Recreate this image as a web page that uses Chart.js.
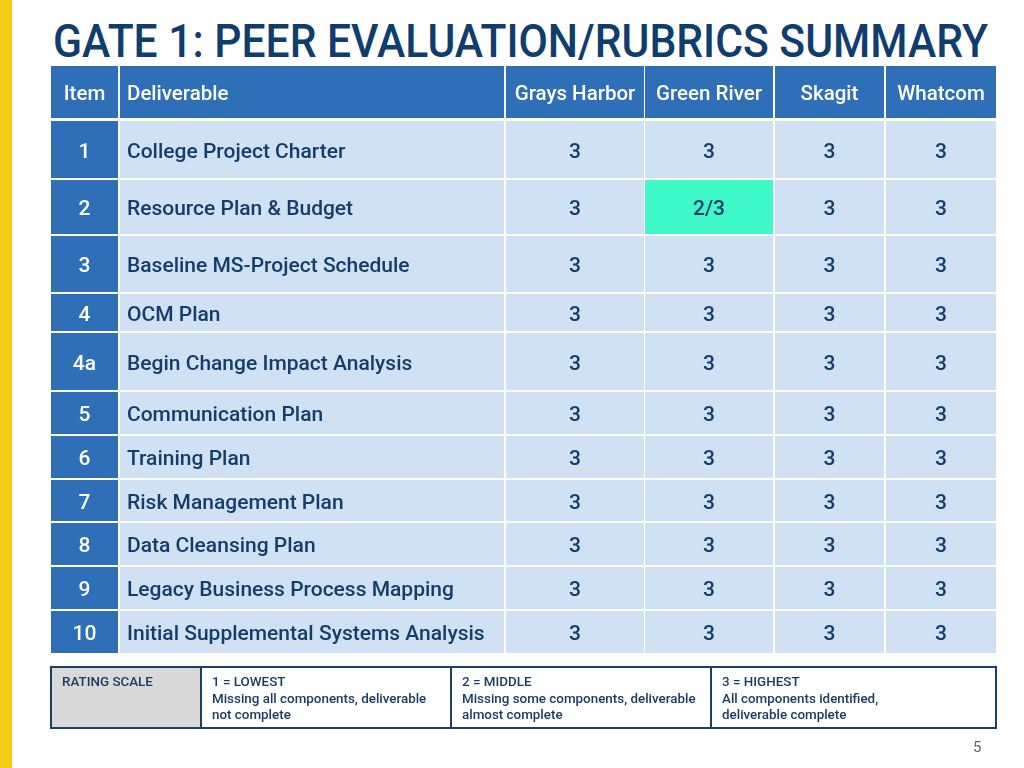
<!DOCTYPE html>
<html>
<head>
<meta charset="utf-8">
<script src="https://cdn.jsdelivr.net/npm/chart.js@4"></script>
<style>
  html,body{margin:0;padding:0;background:#fff;}
  body{width:1024px;height:768px;position:relative;overflow:hidden;font-family:Roboto,"Liberation Sans",sans-serif;}
  #bar{position:absolute;left:0;top:0;width:12px;height:768px;background:#f5cd16;}
  #title{position:absolute;left:53px;top:14px;margin:0;font-family:Roboto,sans-serif;font-weight:500;font-size:46px;line-height:54px;color:#0e3d6e;white-space:nowrap;transform-origin:0 0;letter-spacing:0;}
  #wrap{position:absolute;left:0;top:0;width:1024px;height:768px;}
  #legend{position:absolute;left:50px;top:666px;width:947px;height:63px;border-collapse:collapse;font-family:Roboto,sans-serif;font-weight:500;font-size:13.4px;line-height:16.7px;color:#1a3b63;}
  #legend td{border:2px solid #1c3f66;vertical-align:top;padding:6px 0 0 10px;box-sizing:border-box;}
  #legend td.h{background:#d9d9d9;}
  #page{position:absolute;left:973px;top:738px;font-family:Roboto,sans-serif;font-size:15px;color:#5a6878;}
</style>
</head>
<body>
<div id="bar"></div>
<h1 id="title">GATE 1: PEER EVALUATION/RUBRICS SUMMARY</h1>
<div id="wrap"><canvas id="c" width="1024" height="768"></canvas></div>
<table id="legend">
  <tr>
    <td class="h" style="width:150px">RATING SCALE</td>
    <td style="width:250px">1 = LOWEST<br>Missing all components, deliverable<br>not complete</td>
    <td style="width:260px">2 = MIDDLE<br>Missing some components, deliverable<br>almost complete</td>
    <td>3 = HIGHEST<br>All components identified,<br>deliverable complete</td>
  </tr>
</table>
<div id="page">5</div>
<script>
// ---- data ----
const headers = ["Item", "Deliverable", "Grays Harbor", "Green River", "Skagit", "Whatcom"];
const items = ["1", "2", "3", "4", "4a", "5", "6", "7", "8", "9", "10"];
const deliverables = [
  "College Project Charter",
  "Resource Plan & Budget",
  "Baseline MS-Project Schedule",
  "OCM Plan",
  "Begin Change Impact Analysis",
  "Communication Plan",
  "Training Plan",
  "Risk Management Plan",
  "Data Cleansing Plan",
  "Legacy Business Process Mapping",
  "Initial Supplemental Systems Analysis"
];
const graysHarbor = ["3","3","3","3","3","3","3","3","3","3","3"];
const greenRiver  = ["3","2/3","3","3","3","3","3","3","3","3","3"];
const skagit      = ["3","3","3","3","3","3","3","3","3","3","3"];
const whatcom     = ["3","3","3","3","3","3","3","3","3","3","3"];
const colleges = [graysHarbor, greenRiver, skagit, whatcom];

// ---- layout (scale units = page pixels) ----
const colEdges = [[51,118],[120,504],[506,644],[645,773],[775,884],[886,996]];
const headerEdge = [66,118];
const rowEdges = [[121,178],[180,234],[236,292],[294,331],[333,390],[392,434],[436,478],[480,521],[523,565],[567,609],[611,653]];

const C = {
  blue:"#2e6fb7", light:"#d0e1f3", hi:"#3ff8c8", navy:"#163d6a", white:"#ffffff"
};
const FONT = '500 21px Roboto, "Liberation Sans", sans-serif';
const HFONT = '500 20.5px Roboto, "Liberation Sans", sans-serif';
const TEXT_DY = 3;

const mid = e => (e[0]+e[1])/2;
const datasets = colleges.map((vals, ci) => ({
  label: headers[ci+2],
  data: vals.map((v, ri) => ({x: mid(colEdges[ci+2]), y: mid(rowEdges[ri]), v: v})),
  pointRadius: 0, pointHoverRadius: 0
}));

function rect(ctx, xs, ys, col, colE, rowE){
  const x0 = xs.getPixelForValue(colE[0]), x1 = xs.getPixelForValue(colE[1]);
  const y0 = ys.getPixelForValue(rowE[0]), y1 = ys.getPixelForValue(rowE[1]);
  ctx.fillStyle = col;
  ctx.fillRect(x0, y0, x1-x0, y1-y0);
}

const tablePlugin = {
  id: 'table',
  beforeDatasetsDraw(chart){
    const ctx = chart.ctx, xs = chart.scales.x, ys = chart.scales.y;
    ctx.save();
    // header
    colEdges.forEach(ce => rect(ctx, xs, ys, C.blue, ce, headerEdge));
    ctx.fillStyle = C.white; ctx.font = HFONT; ctx.textBaseline = 'middle';
    headers.forEach((h, i) => {
      const yy = ys.getPixelForValue(mid(headerEdge)) + TEXT_DY;
      if (i === 1) { ctx.textAlign = 'left'; ctx.fillText(h, xs.getPixelForValue(colEdges[1][0]+7), yy); }
      else { ctx.textAlign = 'center'; ctx.fillText(h, xs.getPixelForValue(mid(colEdges[i])), yy); }
    });
    // rows
    rowEdges.forEach((re, ri) => {
      rect(ctx, xs, ys, C.blue, colEdges[0], re);
      rect(ctx, xs, ys, C.light, colEdges[1], re);
      colleges.forEach((vals, ci) => {
        rect(ctx, xs, ys, vals[ri].indexOf('/') >= 0 ? C.hi : C.light, colEdges[ci+2], re);
      });
      const yy = ys.getPixelForValue(mid(re)) + TEXT_DY;
      ctx.font = FONT; ctx.textBaseline = 'middle';
      ctx.fillStyle = C.white; ctx.textAlign = 'center';
      ctx.fillText(items[ri], xs.getPixelForValue(mid(colEdges[0])), yy);
      ctx.fillStyle = C.navy; ctx.textAlign = 'left';
      ctx.fillText(deliverables[ri], xs.getPixelForValue(colEdges[1][0]+7), yy);
    });
    ctx.restore();
  },
  afterDatasetsDraw(chart){
    const ctx = chart.ctx;
    ctx.save();
    ctx.font = FONT; ctx.fillStyle = C.navy; ctx.textAlign = 'center'; ctx.textBaseline = 'middle';
    chart.data.datasets.forEach((ds, di) => {
      chart.getDatasetMeta(di).data.forEach((pt, i) => {
        ctx.fillText(ds.data[i].v, pt.x, pt.y + TEXT_DY);
      });
    });
    ctx.restore();
  }
};

new Chart(document.getElementById('c'), {
  type: 'scatter',
  data: { datasets },
  options: {
    responsive: false, animation: false,
    layout: { padding: { left: 51, right: 28, top: 66, bottom: 115 } },
    plugins: { legend: {display:false}, tooltip: {enabled:false} },
    events: [],
    scales: {
      x: { type:'linear', min:51, max:996, display:false },
      y: { type:'linear', min:66, max:653, reverse:true, display:false }
    }
  },
  plugins: [tablePlugin]
});

// fit title width
const t = document.getElementById('title');
const w = t.getBoundingClientRect().width;
t.style.transform = 'scaleX(' + (935 / w) + ')';
</script>
</body>
</html>
